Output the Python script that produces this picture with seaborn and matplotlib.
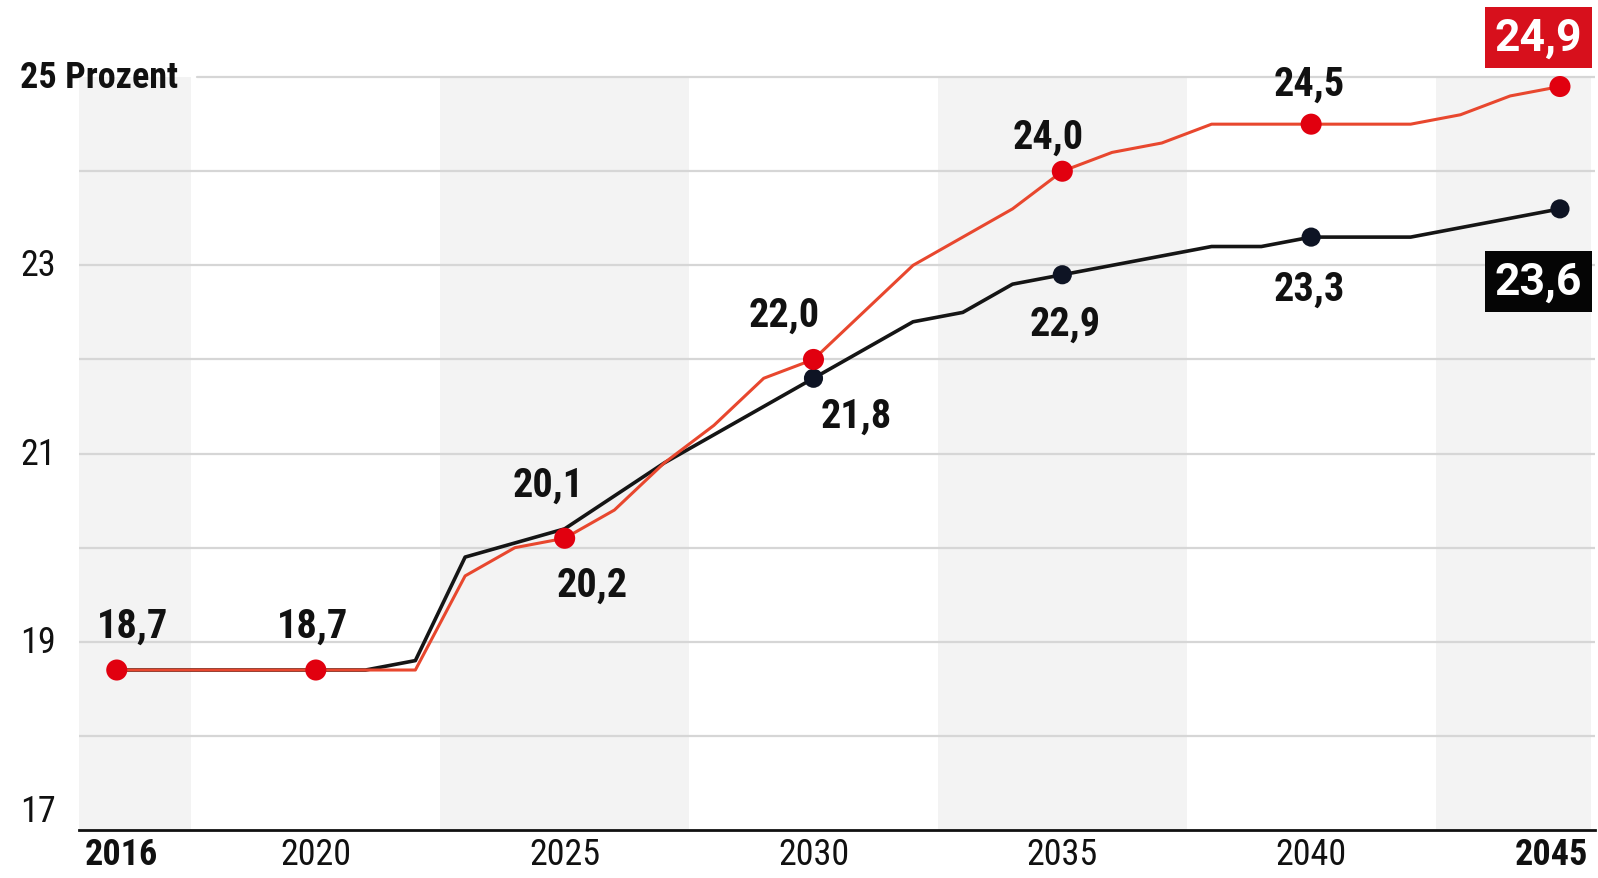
import matplotlib
matplotlib.use('Agg')
import matplotlib.pyplot as plt
import matplotlib.transforms as mtransforms
import seaborn as sns
import pandas as pd

# data
years = list(range(2016, 2046))
red_values = [18.7, 18.7, 18.7, 18.7, 18.7, 18.7, 18.7, 19.7, 20.0, 20.1,
              20.4, 20.9, 21.3, 21.8, 22.0, 22.5, 23.0, 23.3, 23.6, 24.0,
              24.2, 24.3, 24.5, 24.5, 24.5, 24.5, 24.5, 24.6, 24.8, 24.9]
black_values = [18.7, 18.7, 18.7, 18.7, 18.7, 18.7, 18.8, 19.9, 20.05, 20.2,
                20.55, 20.9, 21.2, 21.5, 21.8, 22.1, 22.4, 22.5, 22.8, 22.9,
                23.0, 23.1, 23.2, 23.2, 23.3, 23.3, 23.3, 23.4, 23.5, 23.6]
red_marked = [2016, 2020, 2025, 2030, 2035, 2040, 2045]
black_marked = [2030, 2035, 2040, 2045]
xtick_years = [2016, 2020, 2025, 2030, 2035, 2040, 2045]
ytick_values = [17, 19, 21, 23, 25]
ytick_labels = ['17', '19', '21', '23', '25 Prozent']

df = pd.DataFrame({'year': years + years,
                   'value': red_values + black_values,
                   'series': ['rot'] * len(years) + ['schwarz'] * len(years)})

sns.set_style('white')
plt.rcParams['font.family'] = ['Roboto Condensed', 'Roboto', 'DejaVu Sans']

RED_LINE = '#e8472e'
RED_DOT = '#e1000f'
BLACK_LINE = '#151515'
BLACK_DOT = '#0e1424'
TXT = '#111111'

fig = plt.figure(figsize=(15.98, 8.79), dpi=100)
ax = fig.add_axes([0.0494, 0.0546, 0.9486, 0.9454])
ax.set_xlim(2015.24, 2045.7)
ax.set_ylim(17, 25.83)

# shaded year bands (only inside the grid, 17..25)
for a, b in [(2015.0, 2017.5), (2022.5, 2027.5), (2032.5, 2037.5), (2042.5, 2045.62)]:
    ax.fill_between([a, b], 17, 25, color='#f3f3f3', lw=0, zorder=0)
for v in range(18, 26):
    ax.axhline(v, xmin=0.078 if v == 25 else 0, color='#d6d6d6', lw=1.6, zorder=1)

sns.lineplot(data=df[df.series == 'schwarz'], x='year', y='value', color=BLACK_LINE,
             lw=2.6, ax=ax, zorder=3, legend=False)
sns.lineplot(data=df[df.series == 'rot'], x='year', y='value', color=RED_LINE,
             lw=2.2, ax=ax, zorder=4, legend=False)

dots_b = df[(df.series == 'schwarz') & df.year.isin(black_marked)]
dots_r = df[(df.series == 'rot') & df.year.isin(red_marked)]
sns.scatterplot(data=dots_b, x='year', y='value', color=BLACK_DOT, s=190,
                edgecolor='none', ax=ax, zorder=5, legend=False)
sns.scatterplot(data=dots_r, x='year', y='value', color=RED_DOT, s=230,
                edgecolor='none', ax=ax, zorder=6, legend=False)

# value labels
labels = [('18,7', 2016.31, 19.17), ('18,7', 2019.94, 19.17),
          ('20,1', 2024.66, 20.67), ('20,2', 2025.56, 19.61),
          ('22,0', 2029.41, 22.48), ('21,8', 2030.86, 21.40),
          ('24,0', 2034.72, 24.37), ('22,9', 2035.05, 22.38),
          ('24,5', 2039.96, 24.93), ('23,3', 2039.96, 22.75)]
for t, x, y in labels:
    ax.text(x, y, t, ha='center', va='center', fontsize=29, fontweight='bold',
            color=TXT, zorder=7)

box_font = ['Roboto', 'DejaVu Sans']
ax.text(2044.56, 25.42, '24,9', ha='center', va='center', fontsize=32,
        fontweight='bold', color='white', zorder=8, family=box_font,
        bbox=dict(boxstyle='square,pad=0.22', fc='#d7101c', ec='none'))
ax.text(2044.56, 22.83, '23,6', ha='center', va='center', fontsize=32,
        fontweight='bold', color='white', zorder=8, family=box_font,
        bbox=dict(boxstyle='square,pad=0.22', fc='#050505', ec='none'))

# axes styling
sns.despine(ax=ax, left=True, top=True, right=True)
ax.spines['bottom'].set_color(TXT)
ax.spines['bottom'].set_linewidth(2)
ax.spines['bottom'].set_zorder(9)
ax.set_xlabel('')
ax.set_ylabel('')
ax.set_yticks([])
ax.set_xticks(xtick_years)
ax.set_xticklabels([str(y) for y in xtick_years], fontsize=26, color=TXT)
ax.tick_params(axis='x', length=0, pad=4)
for lab in ax.get_xticklabels():
    if lab.get_text() == '2016':
        lab.set_fontweight('bold')
        lab.set_transform(lab.get_transform() + mtransforms.ScaledTranslation(0.05, 0, fig.dpi_scale_trans))
    elif lab.get_text() == '2045':
        lab.set_fontweight('bold')
        lab.set_transform(lab.get_transform() + mtransforms.ScaledTranslation(-0.09, 0, fig.dpi_scale_trans))

trans = mtransforms.blended_transform_factory(fig.transFigure, ax.transData)
for v, t in zip(ytick_values, ytick_labels):
    y = v + 0.2 if v == 17 else v
    bold = t.endswith('Prozent')
    fig.text(0.0125, y, t, transform=trans, ha='left', va='center',
             fontsize=26, fontweight='bold' if bold else 'normal', color=TXT)

fig.savefig('out.png', dpi=100, facecolor='white')
